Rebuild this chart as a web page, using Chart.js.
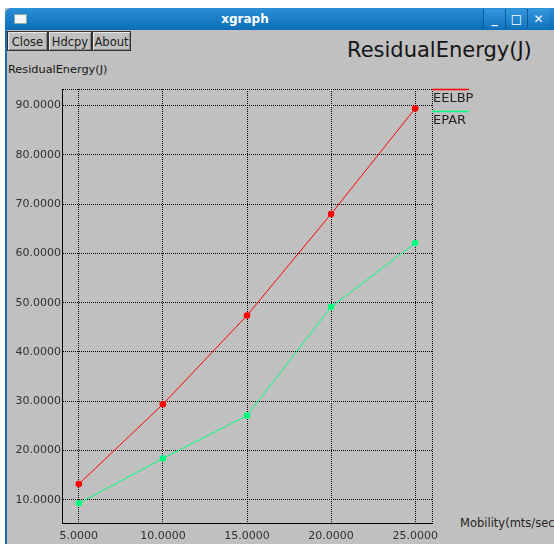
<!DOCTYPE html>
<html>
<head>
<meta charset="utf-8">
<script src="https://cdn.jsdelivr.net/npm/chart.js@4/dist/chart.umd.min.js"></script>
<style>
  html, body { margin:0; padding:0; background:#ffffff; width:554px; height:544px; overflow:hidden; font-family:"DejaVu Sans", sans-serif; }
  #win { position:absolute; left:5px; top:8px; width:549px; height:536px; background:#c0c0c0; }
  #lborder { position:absolute; left:5px; top:30px; width:2px; height:514px; background:#1f6aa0; }
  #titlebar { position:absolute; left:5px; top:8px; width:549px; height:22px; border-top-left-radius:6px;
              background:linear-gradient(#2a8fd6, #0b6db8); }
  #icon { position:absolute; left:9px; top:6px; width:11px; height:8px; background:#f4f4f4; border:1px solid #8aa; }
  #wtitle { position:absolute; left:0; width:480px; top:0; line-height:22px; text-align:center; color:#fff; font-weight:bold; font-size:12px; }
  .wb { position:absolute; top:1px; width:21px; height:20px; background:linear-gradient(#3598dc,#0f72bd); border-left:1px solid #0a5a9a; color:#fff; font-weight:bold; font-size:12px; text-align:center; line-height:20px; }
  .btn { position:absolute; top:31px; height:20px; border:1px solid #333; box-shadow: inset 1px 1px 0 #e8e8e8, inset -1px -1px 0 #888; background:#c0c0c0; font-size:11.5px; line-height:20px; text-align:center; color:#202020; box-sizing:border-box; }
  .txt { position:absolute; white-space:nowrap; color:#151515; }
  #chartwrap { position:absolute; left:0; top:0; width:554px; height:544px; }
</style>
</head>
<body>
<div id="win"></div>
<div id="lborder"></div>
<div id="titlebar">
  <div id="icon"></div>
  <div id="wtitle">xgraph</div>
  <div class="wb" style="left:478px;">_</div>
  <div class="wb" style="left:500px;">&#9633;</div>
  <div class="wb" style="left:522px;">&#10005;</div>
</div>
<div class="btn" style="left:7px; width:41px;">Close</div>
<div class="btn" style="left:48px; width:44px;">Hdcpy</div>
<div class="btn" style="left:92px; width:39px;">About</div>
<div class="txt" style="left:347px; top:40px; font-size:21px; line-height:21px;">ResidualEnergy(J)</div>
<div class="txt" style="left:8px; top:64px; font-size:11.3px; line-height:12px;">ResidualEnergy(J)</div>
<div class="txt" style="left:460px; top:517px; font-size:11.5px; line-height:12px; color:#252525;">Mobility(mts/sec)</div>
<div id="chartwrap"><canvas id="c" width="554" height="544"></canvas></div>
<script>
// ---- data ----
const mobility = [5, 10, 15, 20, 25];
const eelbp = [13.2, 29.4, 47.4, 68.0, 89.4];
const epar = [9.3, 18.4, 27.1, 49.1, 62.1];
const xTicks = [5, 10, 15, 20, 25];
const yTicks = [10, 20, 30, 40, 50, 60, 70, 80, 90];
const seriesNames = ["EELBP", "EPAR"];

const toPts = (ys) => mobility.map((x, i) => ({ x: x, y: ys[i] }));

const legendPlugin = {
  id: 'xgLegend',
  afterDatasetsDraw(chart) {
    const ctx = chart.ctx, ca = chart.chartArea;
    ctx.save();
    chart.data.datasets.forEach((ds, i) => {
      const y0 = Math.round(ca.top + i * 21.5) + 0.5;
      ctx.strokeStyle = ds.borderColor;
      ctx.lineWidth = 1.5;
      ctx.beginPath();
      ctx.moveTo(ca.right, y0);
      ctx.lineTo(ca.right + 37, y0);
      ctx.stroke();
      ctx.fillStyle = '#222';
      ctx.font = '13px "DejaVu Sans"';
      ctx.textBaseline = 'alphabetic';
      ctx.textAlign = 'left';
      ctx.fillText(ds.label, ca.right + 1, y0 + 12.3);
    });
    ctx.restore();
  }
};

const tickFont = { family: 'DejaVu Sans', size: 11 };

new Chart(document.getElementById('c'), {
  type: 'line',
  data: {
    datasets: [
      { label: seriesNames[0], data: toPts(eelbp), borderColor: '#ff0000', backgroundColor: '#ff0000',
        borderWidth: 1, pointRadius: 3.3, pointBorderWidth: 0, pointBackgroundColor: '#ff0000', tension: 0, fill: false },
      { label: seriesNames[1], data: toPts(epar), borderColor: '#00ff7f', backgroundColor: '#00ff7f',
        borderWidth: 1, pointRadius: 3.3, pointBorderWidth: 0, pointBackgroundColor: '#00ff7f', tension: 0, fill: false }
    ]
  },
  options: {
    responsive: false,
    animation: false,
    devicePixelRatio: 1,
    layout: { padding: { top: 89, right: 122, left: 0, bottom: 0 } },
    plugins: { legend: { display: false }, title: { display: false }, tooltip: { enabled: false } },
    scales: {
      x: {
        type: 'linear',
        min: 4, max: 26,
        afterBuildTicks: (s) => { s.ticks = [s.min, ...xTicks, s.max].map(v => ({ value: v })); },
        afterFit: (s) => { s.height = 21; },
        ticks: { font: tickFont, color: '#303030', padding: 7, maxRotation: 0, autoSkip: false,
                 callback: (v) => xTicks.includes(v) ? Number(v).toFixed(4) : '' },
        grid: { color: '#000', lineWidth: 1, drawTicks: false },
        border: { display: true, color: '#000', dash: [1, 1] }
      },
      y: {
        type: 'linear',
        min: 5.3, max: 93.35,
        afterBuildTicks: (s) => { s.ticks = [s.min, ...yTicks, s.max].map(v => ({ value: v })); },
        afterFit: (s) => { s.width = 62; },
        ticks: { font: tickFont, color: '#303030', padding: 1, autoSkip: false,
                 callback: (v) => yTicks.includes(v) ? Number(v).toFixed(4) : '' },
        grid: { color: '#000', lineWidth: 1, drawTicks: false },
        border: { display: true, color: '#000', dash: [1, 1] }
      }
    }
  },
  plugins: [legendPlugin]
});
</script>
</body>
</html>
